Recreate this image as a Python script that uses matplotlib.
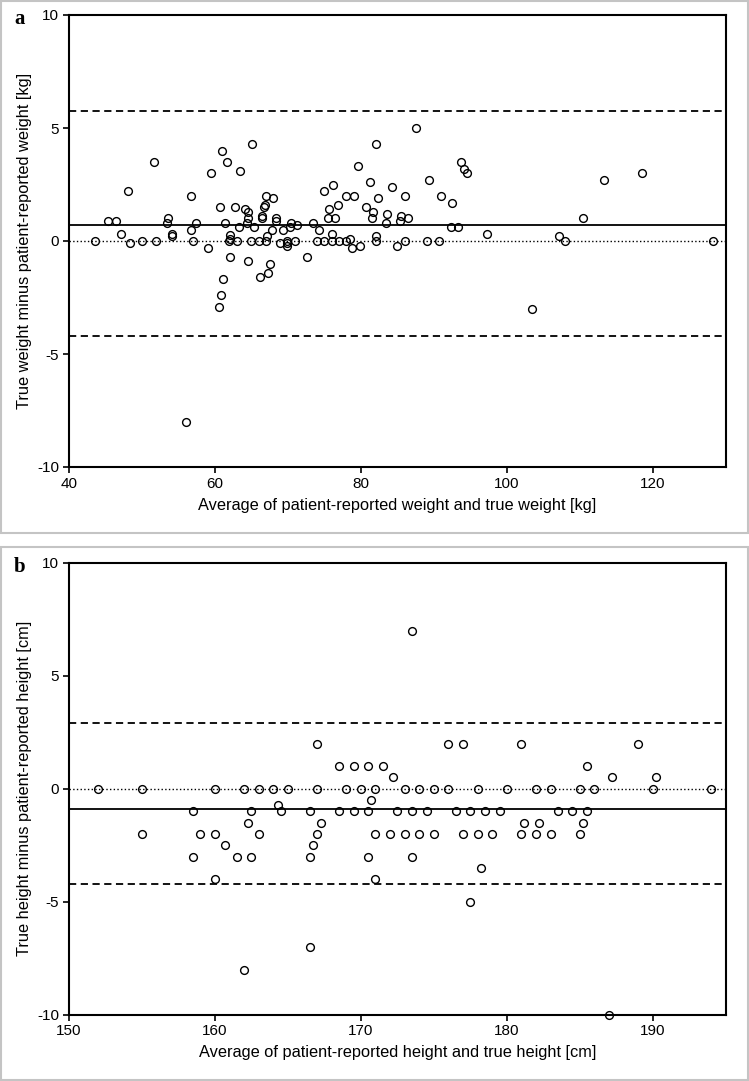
import matplotlib
matplotlib.use("Agg")
import matplotlib.pyplot as plt
from matplotlib.patches import Rectangle

plt.rcParams['font.family'] = ['Liberation Sans', 'DejaVu Sans']
plt.rcParams['axes.unicode_minus'] = False

# panel a: weight (average vs difference, kg)
weight_avg = [43.6, 45.4, 46.5, 47.1, 48.1, 48.4, 50.0, 51.7, 51.9, 53.4, 53.5,
              54.1, 54.1, 56.0, 56.7, 56.7, 57.0, 57.4, 59.1, 59.5, 60.6, 60.7,
              60.8, 60.9, 61.1, 61.4, 61.7, 61.9, 62.1, 62.1, 62.1, 62.7, 63.0,
              63.3, 63.5, 64.1, 64.4, 64.5, 64.6, 64.6, 65.0, 65.1, 65.3, 66.0,
              66.2, 66.4, 66.4, 66.7, 66.8, 67.0, 67.0, 67.1, 67.3, 67.5, 67.8,
              68.0, 68.4, 68.4, 68.9, 69.3, 69.9, 69.9, 69.9, 70.3, 70.4, 71.0,
              71.3, 72.6, 73.4, 74.0, 74.25, 74.9, 75.0, 75.5, 75.7, 76.0, 76.1,
              76.2, 76.5, 76.8, 77.0, 78.0, 78.0, 78.5, 78.8, 79.0, 79.6, 79.9,
              80.7, 81.3, 81.5, 81.7, 82.1, 82.1, 82.1, 82.4, 83.4, 83.6, 84.2,
              84.9, 85.4, 85.5, 86.0, 86.0, 86.5, 87.5, 89.0, 89.3, 90.7, 91.0,
              92.3, 92.5, 93.3, 93.7, 94.1, 94.5, 97.3, 103.5, 107.1, 108.0,
              110.5, 113.3, 118.5, 128.2]
weight_diff = [0.0, 0.9, 0.9, 0.3, 2.2, -0.1, 0.0, 3.5, 0.0, 0.8, 1.0,
               0.3, 0.2, -8.0, 2.0, 0.5, 0.0, 0.8, -0.3, 3.0, -2.9, 1.5,
               -2.4, 4.0, -1.7, 0.8, 3.5, 0.0, 0.25, 0.1, -0.7, 1.5, 0.0,
               0.6, 3.1, 1.4, 0.8, 1.0, 1.3, -0.9, 0.0, 4.3, 0.6, 0.0,
               -1.6, 1.1, 1.0, 1.5, 1.6, 2.0, 0.0, 0.2, -1.4, -1.0, 0.5,
               1.9, 1.0, 0.9, -0.1, 0.5, 0.0, -0.1, -0.2, 0.6, 0.8, 0.0,
               0.7, -0.7, 0.8, 0.0, 0.5, 2.2, 0.0, 1.0, 1.4, 0.0, 0.3,
               2.5, 1.0, 1.6, 0.0, 0.0, 2.0, 0.1, -0.3, 2.0, 3.3, -0.2,
               1.5, 2.6, 1.0, 1.3, 4.3, 0.2, 0.0, 1.9, 0.8, 1.2, 2.4,
               -0.2, 0.9, 1.1, 2.0, 0.0, 1.0, 5.0, 0.0, 2.7, 0.0, 2.0,
               0.6, 1.7, 0.6, 3.5, 3.2, 3.0, 0.3, -3.0, 0.2, 0.0,
               1.0, 2.7, 3.0, 0.0]
weight_bias = 0.72
weight_loa = [-4.22, 5.75]

# panel b: height (average vs difference, cm)
height_avg = [152.0, 155.0, 160.0, 162.0, 163.0, 164.0, 165.0, 167.0, 169.0,
              170.0, 171.0, 173.0, 174.0, 175.0, 176.0, 178.0, 180.0, 182.0,
              183.0, 185.0, 186.0, 190.0, 194.0,
              167.0, 176.0, 177.0, 181.0, 189.0,
              168.5, 169.5, 170.5, 171.5, 185.5,
              172.2, 187.2, 190.2,
              173.5, 170.7, 164.3,
              158.5, 162.5, 164.5, 166.5, 168.5, 169.5, 170.5, 172.5, 173.5,
              174.5, 176.5, 177.5, 178.5, 179.5, 183.5, 184.5, 185.5,
              162.25, 167.25, 181.2, 182.2, 185.2,
              155.0, 159.0, 160.0, 163.0, 167.0, 171.0, 172.0, 173.0, 174.0,
              175.0, 177.0, 178.0, 179.0, 181.0, 182.0, 183.0, 185.0,
              160.7, 166.75,
              158.5, 161.5, 162.5, 166.5, 170.5, 173.5,
              178.25, 160.0, 171.0, 177.5, 166.5, 162.0, 187.0]
height_diff = [0.0] * 23 + [2.0] * 5 + [1.0] * 5 + [0.5] * 3 + \
              [7.0, -0.5, -0.7] + [-1.0] * 17 + [-1.5] * 5 + [-2.0] * 17 + \
              [-2.5] * 2 + [-3.0] * 6 + \
              [-3.5, -4.0, -4.0, -5.0, -7.0, -8.0, -10.0]
height_bias = -0.88
height_loa = [-4.22, 2.92]

panels = [
    dict(x=weight_avg, y=weight_diff, bias=weight_bias, loa=weight_loa,
         xlim=(40, 130), xticks=[40, 60, 80, 100, 120], letter='a',
         xlabel='Average of patient-reported weight and true weight [kg]',
         ylabel='True weight minus patient-reported weight [kg]'),
    dict(x=height_avg, y=height_diff, bias=height_bias, loa=height_loa,
         xlim=(150, 195), xticks=[150, 160, 170, 180, 190], letter='b',
         xlabel='Average of patient-reported height and true height [cm]',
         ylabel='True height minus patient-reported height [cm]'),
]

W, H = 749, 1081
fig = plt.figure(figsize=(W / 100, H / 100), dpi=100)

# axes boxes in pixels: (left, top, right, bottom)
ax_px = [(69, 15, 725.7, 467), (69, 562.7, 725.7, 1014.7)]
frame_px = [(1, 1, 748, 533), (1, 547, 748, 1080)]

for p, (l, t, r, b), (fl, ft, fr, fb) in zip(panels, ax_px, frame_px):
    fig.add_artist(Rectangle((fl / W, 1 - fb / H), (fr - fl) / W, (fb - ft) / H,
                             transform=fig.transFigure, fill=False,
                             ec='#c4c4c4', lw=1.5))
    ax = fig.add_axes([l / W, 1 - b / H, (r - l) / W, (b - t) / H])
    ax.axhline(0, color='black', lw=1.0, ls=':')
    ax.axhline(p['bias'], color='black', lw=1.3)
    for v in p['loa']:
        ax.axhline(v, color='black', lw=1.3, ls=(0, (4, 2.5)))
    ax.plot(p['x'], p['y'], 'o', ms=5.6, mfc='none', mec='black', mew=1.0,
            clip_on=False, zorder=3)
    ax.set_xlim(*p['xlim'])
    ax.set_ylim(-10, 10)
    ax.set_xticks(p['xticks'])
    ax.set_yticks([-10, -5, 0, 5, 10])
    for s in ax.spines.values():
        s.set_linewidth(1.5)
    ax.tick_params(direction='out', length=4, width=1.2, labelsize=11, pad=3)
    ax.set_xlabel(p['xlabel'], fontsize=11.8, labelpad=5)
    ax.set_ylabel(p['ylabel'], fontsize=11.8, labelpad=4)
    fig.text(20 / W, 1 - (t + 4) / H, p['letter'], fontsize=15, fontweight='bold',
             family='Liberation Serif', ha='center', va='center')

fig.savefig('out.png', dpi=100)
